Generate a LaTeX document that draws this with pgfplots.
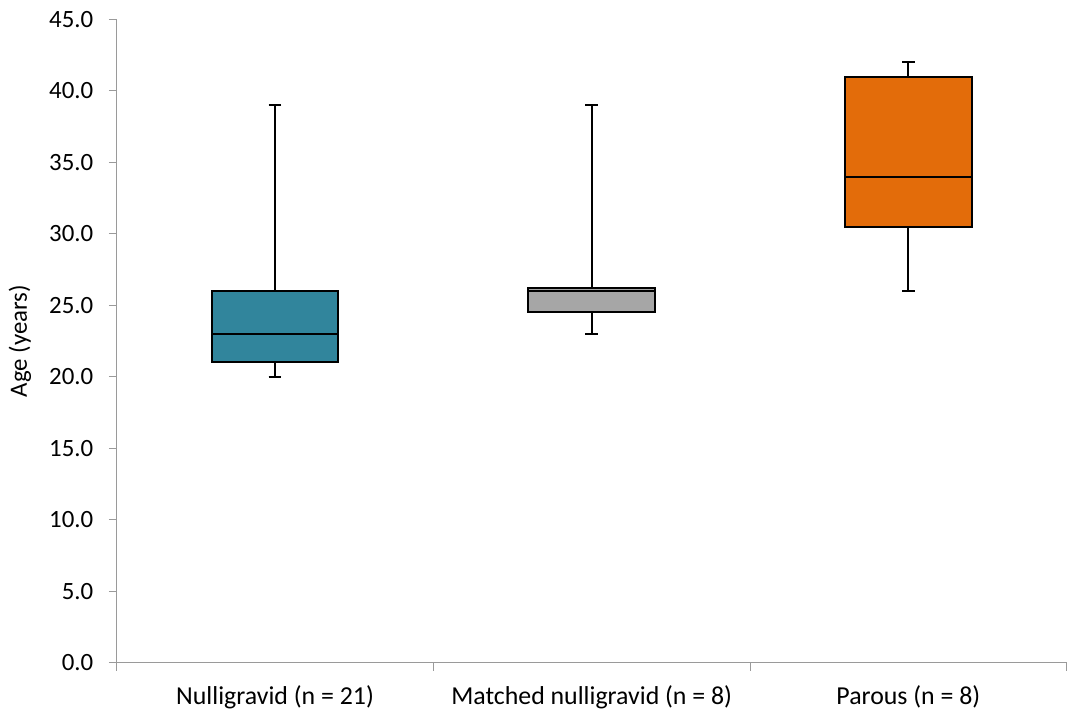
\documentclass[border=0pt]{standalone}
\usepackage{pgfplots}
\pgfplotsset{compat=1.18}
\usepgfplotslibrary{statistics}
\usepackage{fontspec}
\setmainfont{Carlito}

\definecolor{boxteal}{HTML}{31859C}
\definecolor{boxgray}{HTML}{A6A6A6}
\definecolor{boxorange}{HTML}{E36C0A}
\definecolor{axisgray}{HTML}{9A9A9A}

\begin{document}
\begin{tikzpicture}
\begin{axis}[
  at={(0,0)}, anchor=south west,
  scale only axis, width=952bp, height=644.5bp,
  xmin=0.5, xmax=3.5, ymin=0, ymax=45,
  axis x line*=bottom, axis y line*=left,
  axis line style={draw=axisgray, line width=1bp},
  tick style={draw=axisgray, line width=1bp},
  tick align=outside,
  ytick={0,5,...,45},
  major tick length=8bp,
  /pgf/number format/assume math mode=true,
  yticklabel style={font=\fontsize{25}{26}\selectfont, xshift=-12bp,
    /pgf/number format/.cd, fixed, fixed zerofill, precision=1},
  % category separators below the axis
  xtick={0.5,1.5,2.5,3.5},
  xticklabels={},
  % category names between the separators
  extra x ticks={1,2,3},
  extra x tick labels={Nulligravid (n = 21), Matched nulligravid (n = 8), Parous (n = 8)},
  extra x tick style={major tick length=0pt,
    tick style={draw=none},
    xticklabel style={font=\fontsize{26}{27}\selectfont, yshift=-20bp}},
  ylabel={Age (years)},
  ylabel style={font=\fontsize{25}{27}\selectfont, at={(axis description cs:-0.1019,0.5)}, anchor=center},
  boxplot/draw direction=y,
  boxplot/every box/.style={draw=black, line width=2bp},
  boxplot/every median/.style={draw=black, line width=2bp},
  boxplot/every whisker/.style={draw=black, line width=2bp},
  clip=false,
]
\addplot[draw=black, fill=boxteal, line width=2bp, solid,
  boxplot prepared={draw position=1, box extend=0.4, whisker extend=0.04,
    lower whisker=20, lower quartile=21, median=23, upper quartile=26, upper whisker=39}]
  coordinates {};
\addplot[draw=black, fill=boxgray, line width=2bp, solid,
  boxplot prepared={draw position=2, box extend=0.4, whisker extend=0.04,
    lower whisker=23, lower quartile=24.5, median=26, upper quartile=26.2, upper whisker=39}]
  coordinates {};
\addplot[draw=black, fill=boxorange, line width=2bp, solid,
  boxplot prepared={draw position=3, box extend=0.4, whisker extend=0.04,
    lower whisker=26, lower quartile=30.5, median=34, upper quartile=41, upper whisker=42}]
  coordinates {};
\end{axis}
\path (-117bp,-48bp) rectangle (953bp,664bp);
\end{tikzpicture}
\end{document}
